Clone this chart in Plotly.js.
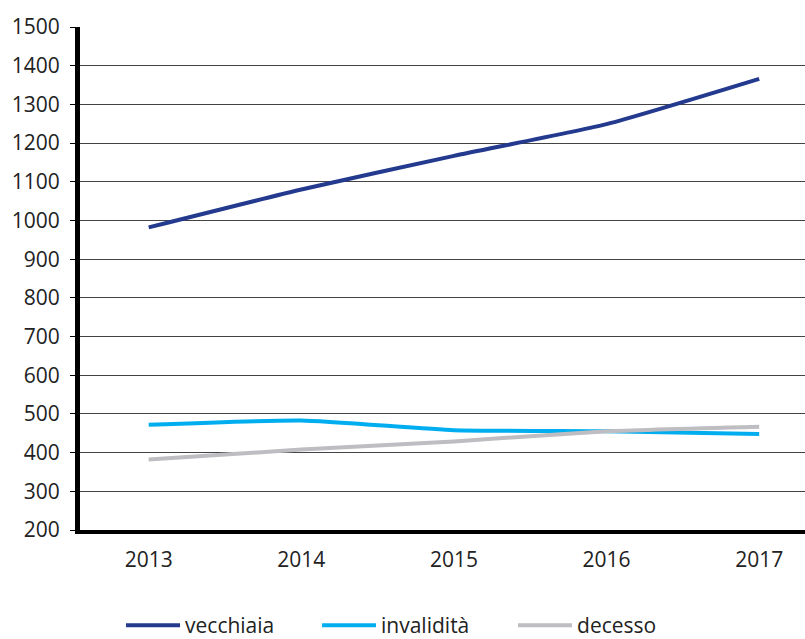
<!DOCTYPE html>
<html>
<head>
<meta charset="utf-8">
<script src="https://cdn.plot.ly/plotly-3.0.1.min.js"></script>
<style>html,body{margin:0;padding:0;background:#fff;}#chart{width:805px;height:639px;}</style>
</head>
<body>
<div id="chart"></div>
<script>
var years = ['2013', '2014', '2015', '2016', '2017'];
var vecchiaia = [982, 1080, 1167, 1249, 1366];
var invalidita = [472, 483, 458, 455, 448];
var decesso = [382, 408, 429, 455, 467];
var seriesNames = ['vecchiaia', 'invalidità', 'decesso'];
var seriesColors = ['#233A8E', '#00AEEF', '#BDBDC2'];

var seriesData = [vecchiaia, invalidita, decesso];
var traces = seriesData.map(function (vals, i) {
  return {
    type: 'scatter',
    mode: 'lines',
    x: years,
    y: vals,
    name: seriesNames[i],
    line: { color: seriesColors[i], width: 4, shape: 'spline', smoothing: 0.5 },
    hoverinfo: 'x+y+name'
  };
});

var font = { family: '"Open Sans", "Noto Sans", sans-serif', size: 21, color: '#222' };

var layout = {
  width: 805,
  height: 639,
  margin: { l: 80, r: 0, t: 27, b: 109 },
  paper_bgcolor: '#fff',
  plot_bgcolor: '#fff',
  font: font,
  showlegend: true,
  legend: {
    orientation: 'h',
    x: 0.0566,
    xanchor: 'left',
    yref: 'container',
    y: 0.021,
    yanchor: 'middle',
    entrywidth: 127,
    itemwidth: 54,
    font: font,
    traceorder: 'normal'
  },
  xaxis: {
    type: 'category',
    range: [-0.45, 4.3],
    showgrid: false,
    showline: true,
    linecolor: '#000',
    linewidth: 4,
    ticks: '',
    ticklabelstandoff: 8,
    tickfont: font,
    fixedrange: true
  },
  yaxis: {
    range: [200, 1500],
    dtick: 100,
    tick0: 200,
    showgrid: true,
    gridcolor: '#444',
    gridwidth: 1,
    showline: true,
    linecolor: '#000',
    linewidth: 5,
    ticks: 'outside',
    ticklen: 5,
    tickcolor: '#000',
    tickwidth: 1,
    ticklabelstandoff: 6,
    tickfont: font,
    zeroline: false,
    fixedrange: true
  }
};

Plotly.newPlot('chart', traces, layout, { displayModeBar: false, staticPlot: true });
</script>
</body>
</html>
